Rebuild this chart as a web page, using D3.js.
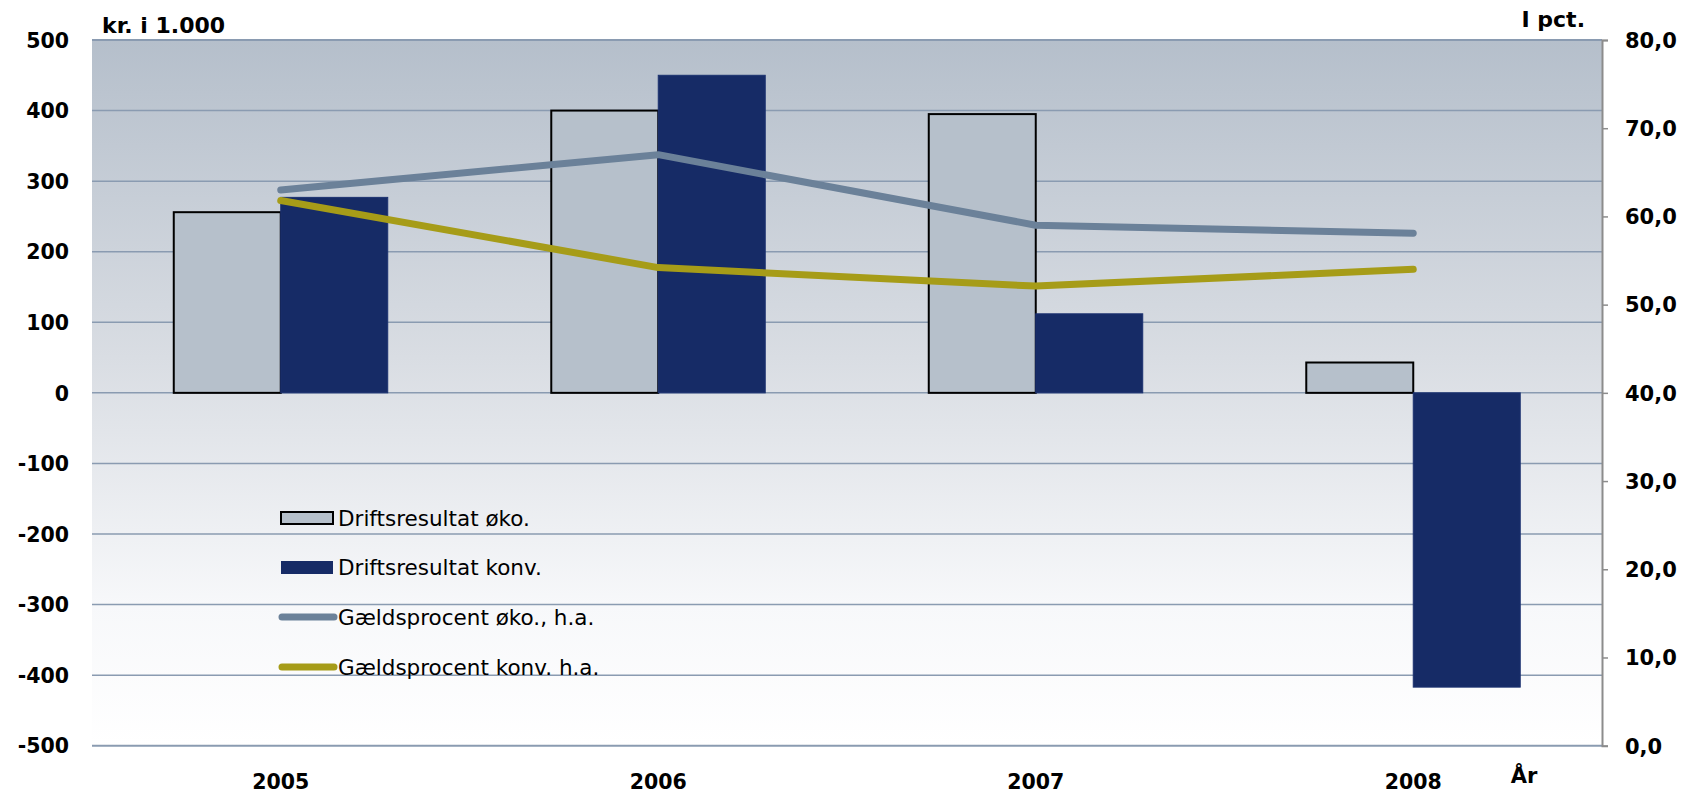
<!DOCTYPE html>
<html>
<head>
<meta charset="utf-8">
<script src="https://cdn.jsdelivr.net/npm/d3@7"></script>
<style>
  html, body { margin: 0; padding: 0; background: #ffffff; }
  svg { display: block; font-family: "DejaVu Sans", Verdana, sans-serif; }
</style>
</head>
<body>
<svg id="chart" width="1685" height="794"></svg>
<script>
// ---- Data ----
const years = ["2005", "2006", "2007", "2008"];
const driftOko = [256, 400, 395, 43];
const driftKonv = [277, 450, 112, -417];
const gaeldOko = [63.0, 67.0, 59.0, 58.1];
const gaeldKonv = [61.8, 54.2, 52.1, 54.0];
const leftTicks = [500, 400, 300, 200, 100, 0, -100, -200, -300, -400, -500];
const rightTicks = [80, 70, 60, 50, 40, 30, 20, 10, 0];
const barSeries = ["Driftsresultat øko.", "Driftsresultat konv."];
const lineSeries = ["Gældsprocent øko., h.a.", "Gældsprocent konv. h.a."];
const leftTitle = "kr. i 1.000";
const rightTitle = "I pct.";
const xTitle = "År";

// ---- Layout ----
const plot = { left: 92, right: 1602, top: 40, bottom: 745.7 };
const svg = d3.select("#chart");

const x0 = d3.scaleBand().domain(years).range([plot.left, plot.right]).padding(0);
const bw = x0.bandwidth();
const x1 = d3.scaleBand().domain(barSeries).range([bw * 0.2166, bw * 0.7834]).padding(0);
const yL = d3.scaleLinear().domain([-500, 500]).range([plot.bottom, plot.top]);
const yR = d3.scaleLinear().domain([0, 80]).range([plot.bottom, plot.top]);

// Background gradient
const defs = svg.append("defs");
const grad = defs.append("linearGradient").attr("id", "bg").attr("x1", 0).attr("y1", 0).attr("x2", 0).attr("y2", 1);
grad.append("stop").attr("offset", "0%").attr("stop-color", "#b5bfcb");
grad.append("stop").attr("offset", "45%").attr("stop-color", "#d9dde3");
grad.append("stop").attr("offset", "80%").attr("stop-color", "#f7f8fa");
grad.append("stop").attr("offset", "100%").attr("stop-color", "#ffffff");

svg.append("rect")
  .attr("x", plot.left).attr("y", plot.top)
  .attr("width", plot.right - plot.left).attr("height", plot.bottom - plot.top)
  .attr("fill", "url(#bg)");

// Gridlines
svg.append("g").selectAll("line").data(leftTicks).join("line")
  .attr("x1", plot.left).attr("x2", plot.right)
  .attr("y1", d => yL(d)).attr("y2", d => yL(d))
  .attr("stroke", "#8a9bb1")
  .attr("stroke-width", d => (d === 500 || d === -500) ? 2 : 1.5);

// Left axis labels
const leftAxis = d3.axisLeft(yL).tickValues(leftTicks).tickSize(0).tickPadding(0).tickFormat(d => String(d));
const gL = svg.append("g").attr("transform", `translate(69,0)`).call(leftAxis);
gL.select(".domain").remove();
gL.selectAll("text").attr("font-size", 20.5).attr("font-weight", "bold").attr("fill", "#000")
  .attr("font-family", "DejaVu Sans").attr("dy", "0.35em");

// Right axis
const fmtR = d => d.toFixed(1).replace(".", ",");
const rightAxis = d3.axisRight(yR).tickValues(rightTicks).tickSize(6).tickPadding(17).tickFormat(fmtR);
const gR = svg.append("g").attr("transform", `translate(${plot.right},0)`).call(rightAxis);
gR.select(".domain").attr("stroke", "#8c8c8c").attr("stroke-width", 2);
gR.selectAll(".tick line").attr("stroke", "#8c8c8c").attr("stroke-width", 1.5);
gR.selectAll("text").attr("font-size", 21).attr("font-weight", "bold").attr("fill", "#000")
  .attr("font-family", "DejaVu Sans").attr("dy", "0.35em");

// X axis labels
const xAxis = d3.axisBottom(x0).tickSize(0).tickPadding(0);
const gX = svg.append("g").attr("transform", `translate(0,789)`).call(xAxis);
gX.select(".domain").remove();
gX.selectAll("text").attr("font-size", 20.5).attr("font-weight", "bold").attr("fill", "#000")
  .attr("font-family", "DejaVu Sans").attr("dy", 0);

// Titles
svg.append("text").attr("x", 102).attr("y", 33).text(leftTitle)
  .attr("font-size", 22).attr("font-weight", "bold");
svg.append("text").attr("x", 1585).attr("y", 27).attr("text-anchor", "end").text(rightTitle)
  .attr("font-size", 22).attr("font-weight", "bold");
svg.append("text").attr("x", 1524).attr("y", 783).attr("text-anchor", "middle").text(xTitle)
  .attr("font-size", 21).attr("font-weight", "bold");

// Bars
const barData = [];
years.forEach((yr, i) => {
  barData.push({ yr, s: barSeries[0], v: driftOko[i] });
  barData.push({ yr, s: barSeries[1], v: driftKonv[i] });
});
const barStyle = {
  [barSeries[0]]: { fill: "#b6c0cb", stroke: "#000", sw: 2 },
  [barSeries[1]]: { fill: "#162b66", stroke: "#1c3270", sw: 1 }
};
svg.append("g").selectAll("rect").data(barData).join("rect")
  .attr("x", d => x0(d.yr) + x1(d.s))
  .attr("width", x1.bandwidth())
  .attr("y", d => Math.min(yL(d.v), yL(0)))
  .attr("height", d => Math.abs(yL(d.v) - yL(0)))
  .attr("fill", d => barStyle[d.s].fill)
  .attr("stroke", d => barStyle[d.s].stroke)
  .attr("stroke-width", d => barStyle[d.s].sw);

// Lines
const lineColors = ["#6b8199", "#a69c18"];
const lineGen = d3.line().x(d => x0(d.yr) + bw / 2).y(d => yR(d.v));
[gaeldOko, gaeldKonv].forEach((arr, k) => {
  const pts = years.map((yr, i) => ({ yr, v: arr[i] }));
  svg.append("path").datum(pts)
    .attr("d", lineGen)
    .attr("fill", "none")
    .attr("stroke", lineColors[k])
    .attr("stroke-width", 7)
    .attr("stroke-linecap", "round")
    .attr("stroke-linejoin", "round");
});

// Legend
const legY = [518, 567, 617, 667];
const lg = svg.append("g");
lg.append("rect").attr("x", 281).attr("y", 512).attr("width", 52).attr("height", 12)
  .attr("fill", "#b6c0cb").attr("stroke", "#000").attr("stroke-width", 2);
lg.append("rect").attr("x", 281).attr("y", 561).attr("width", 52).attr("height", 13)
  .attr("fill", "#162b66");
lg.append("line").attr("x1", 282).attr("x2", 334).attr("y1", legY[2]).attr("y2", legY[2])
  .attr("stroke", lineColors[0]).attr("stroke-width", 7).attr("stroke-linecap", "round");
lg.append("line").attr("x1", 282).attr("x2", 334).attr("y1", legY[3]).attr("y2", legY[3])
  .attr("stroke", lineColors[1]).attr("stroke-width", 7).attr("stroke-linecap", "round");
const legLabels = [barSeries[0], barSeries[1], lineSeries[0], lineSeries[1]];
lg.selectAll("text.leg").data(legLabels).join("text")
  .attr("class", "leg")
  .attr("x", 338).attr("y", (d, i) => legY[i]).attr("dy", "0.36em")
  .attr("font-size", 21.5).attr("fill", "#000").text(d => d);
</script>
</body>
</html>
